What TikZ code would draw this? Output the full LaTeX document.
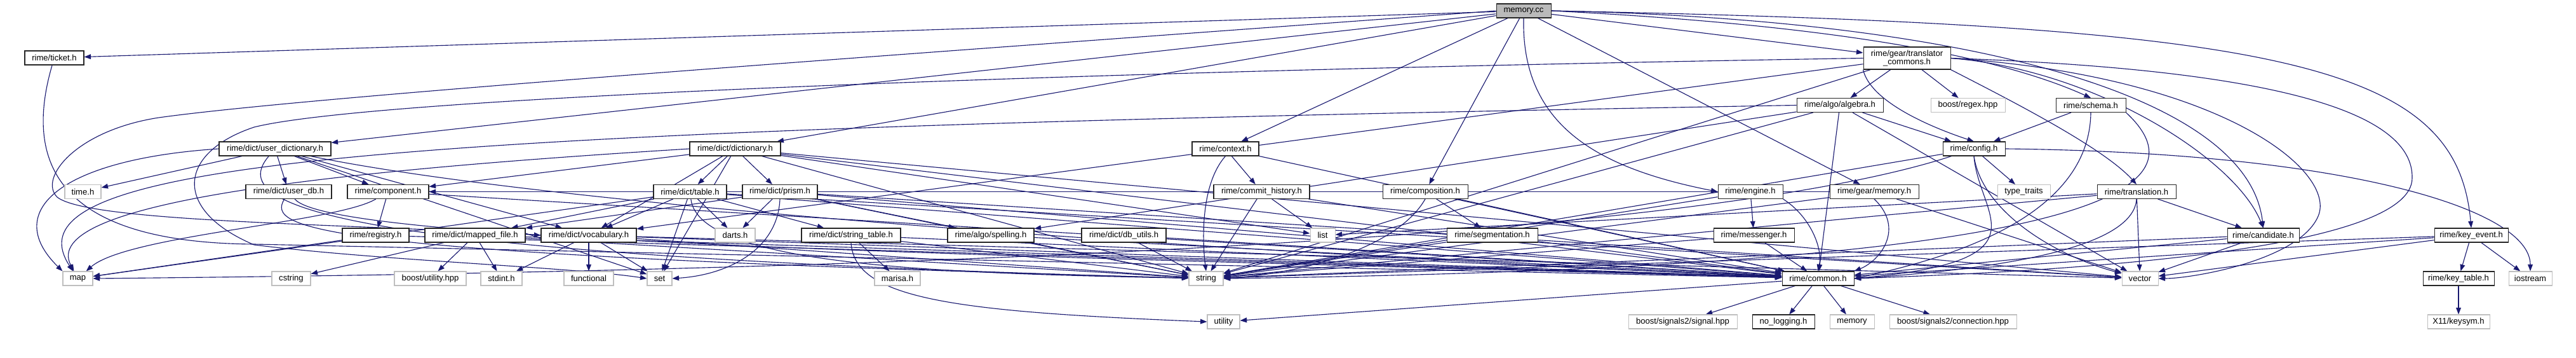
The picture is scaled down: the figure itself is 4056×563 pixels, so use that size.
\documentclass[tikz,border=0pt]{standalone}
\usepackage{fontspec}
\setmainfont{Liberation Sans}
\usetikzlibrary{arrows.meta,backgrounds}
\definecolor{edgeblue}{RGB}{25,25,112}

\begin{document}
\begin{tikzpicture}[x=0.025cm, y=-0.025cm,
    box/.style={draw, line width=0.75pt, fill=white, inner sep=0pt, minimum height=0.55cm,
                font=\fontsize{9.3}{9.2}\selectfont},
    hdr/.style={box, draw=black!85},
    sys/.style={box, draw=black!25},
    rootbox/.style={box, draw=black!85, fill=black!27},
    wd/.style={minimum width=#1*0.025cm},
    dep/.style={draw=edgeblue, line width=0.8pt, -{Triangle[length=7.5pt,width=5.5pt]}}]
  \useasboundingbox (0,0) rectangle (4056,563);

  % top rows
  \node[rootbox, wd=86] (memcc) at (2399,17) {memory.cc};
  \node[hdr, wd=93] (ticket) at (85.5,91) {rime/ticket.h};
  \node[hdr, wd=137, minimum height=0.875cm, align=center] (tcommons) at (3002.5,91.5) {rime/gear/translator\\\_commons.h};
  \node[hdr, wd=136] (algebra) at (2897,165.5) {rime/algo/algebra.h};
  \node[sys, wd=117] (regex) at (3098.5,165.5) {boost/regex.hpp};
  \node[hdr, wd=110] (schema) at (3292,165.5) {rime/schema.h};
  \node[hdr, wd=98] (config) at (3108,234) {rime/config.h};
  \node[hdr, wd=176] (udict) at (433,234) {rime/dict/user\_dictionary.h};
  \node[hdr, wd=143] (dict) at (1157.5,234) {rime/dict/dictionary.h};
  \node[hdr, wd=105] (context) at (1929.5,234) {rime/context.h};

  % middle row
  \node[sys, wd=57] (timeh) at (130.5,301.5) {time.h};
  \node[hdr, wd=135] (userdb) at (454.5,301.5) {rime/dict/user\_db.h};
  \node[hdr, wd=128] (component) at (611,301.5) {rime/component.h};
  \node[hdr, wd=115] (table) at (1086.5,301.5) {rime/dict/table.h};
  \node[hdr, wd=118] (prism) at (1228,301.5) {rime/dict/prism.h};
  \node[hdr, wd=151] (commit) at (1986.5,301.5) {rime/commit\_history.h};
  \node[hdr, wd=134] (composition) at (2244,301.5) {rime/composition.h};
  \node[hdr, wd=102] (engine) at (2756,301.5) {rime/engine.h};
  \node[hdr, wd=140] (gmemory) at (2951,301.5) {rime/gear/memory.h};
  \node[sys, wd=83] (typetraits) at (3186.5,301.5) {type\_traits};
  \node[hdr, wd=124] (translation) at (3364,301.5) {rime/translation.h};

  \node[hdr, wd=105] (registry) at (591.5,370) {rime/registry.h};
  \node[hdr, wd=158] (mapped) at (748,370) {rime/dict/mapped\_file.h};
  \node[hdr, wd=150] (vocab) at (927,370) {rime/dict/vocabulary.h};
  \node[sys, wd=63] (darts) at (1157.5,370) {darts.h};
  \node[hdr, wd=156] (strtable) at (1340,370) {rime/dict/string\_table.h};
  \node[hdr, wd=136] (spelling) at (1560,370) {rime/algo/spelling.h};
  \node[hdr, wd=133] (dbutils) at (1769.5,370) {rime/dict/db\_utils.h};
  \node[sys, wd=39] (list) at (2082.5,370) {list};
  \node[hdr, wd=143] (segmentation) at (2349.5,370) {rime/segmentation.h};
  \node[hdr, wd=127] (messenger) at (2761.5,370) {rime/messenger.h};
  \node[hdr, wd=113] (candidate) at (3563.5,370) {rime/candidate.h};
  \node[hdr, wd=116] (keyevent) at (3891,370) {rime/key\_event.h};

  % bottom rows
  \node[sys, wd=47] (map) at (122.5,438) {map};
  \node[sys, wd=61] (cstring) at (458.5,438) {cstring};
  \node[sys, wd=113] (butility) at (677.5,438) {boost/utility.hpp};
  \node[sys, wd=65] (stdint) at (789.5,438) {stdint.h};
  \node[sys, wd=78] (functional) at (927,438) {functional};
  \node[sys, wd=39] (set) at (1038.5,438) {set};
  \node[sys, wd=72] (marisa) at (1413,438) {marisa.h};
  \node[sys, wd=54] (string) at (1899,438) {string};
  \node[hdr, wd=113] (common) at (2862.5,438) {rime/common.h};
  \node[sys, wd=57] (vector) at (3369.5,438) {vector};
  \node[hdr, wd=112] (keytable) at (3871,438) {rime/key\_table.h};
  \node[sys, wd=68] (iostream) at (3984,438) {iostream};

  \node[sys, wd=51] (utility) at (1926.5,506) {utility};
  \node[sys, wd=171] (signal) at (2649.5,506) {boost/signals2/signal.hpp};
  \node[hdr, wd=98] (nologging) at (2808,506) {no\_logging.h};
  \node[sys, wd=70] (memory) at (2916,506) {memory};
  \node[sys, wd=200] (connection) at (3075,506) {boost/signals2/connection.hpp};
  \node[sys, wd=98] (keysym) at (3871,506) {X11/keysym.h};

  \begin{scope}[on background layer]
    % memory.cc
    \draw[dep] (memcc) -- (ticket);
    \draw[dep] (memcc) -- (udict);
    \draw[dep] (memcc) -- (dict);
    \draw[dep] (memcc) -- (context);
    \draw[dep] (memcc) -- (composition);
    \draw[dep] (memcc.south) .. controls (2395,200) and (2520,265) .. (engine.west);
    \draw[dep] (memcc) -- (gmemory);
    \draw[dep] (memcc) -- (tcommons);
    \draw[dep] (memcc.east) .. controls (2900,40) and (3150,90) .. (schema.north);
    \draw[dep] (memcc.east) .. controls (3100,30) and (3540,150) .. (candidate.north);
    \draw[dep] (memcc.east) .. controls (3600,40) and (3868,100) .. (keyevent.north);
    \draw[dep] (memcc.west) .. controls (1500,80) and (500,150) .. (250,185)
      .. controls (120,205) and (60,280) .. (90,310)
      .. controls (140,350) and (550,352) .. (vocab.west);
    % ticket, user dictionary
    \draw[dep] (ticket) .. controls (30,280) and (120,382) .. (400,384) -- (common);
    \draw[dep] (udict.west) .. controls (100,250) and (0,330) .. (map.north west);
    \draw[dep] (udict) -- (timeh);
    \draw[dep] (udict) -- (userdb);
    \draw[dep] (udict) -- (component);
    \draw[dep] (udict) -- (vocab);
    \draw[dep] (udict) -- (set);
    \draw[dep] (udict) .. controls (360,320) and (480,400) .. (string);
    \draw[dep] (udict) .. controls (900,330) and (2000,400) .. (common);
    \draw[dep] (userdb) .. controls (420,360) and (480,400) .. (string);
    \draw[dep] (userdb) .. controls (520,380) and (1500,400) .. (common);
    \draw[dep] (component) -- (registry);
    \draw[dep] (component) .. controls (530,350) and (200,370) .. (map);
    \draw[dep] (component) -- (common);
    \draw[dep] (registry) -- (map);
    \draw[dep] (registry) -- (common);
    \draw[dep] (mapped) -- (butility);
    \draw[dep] (mapped) -- (stdint);
    \draw[dep] (mapped) -- (cstring);
    \draw[dep] (mapped) -- (string);
    \draw[dep] (mapped) -- (common);
    \draw[dep] (vocab) -- (stdint);
    \draw[dep] (vocab) -- (functional);
    \draw[dep] (vocab) -- (set);
    \draw[dep] (vocab) -- (string);
    \draw[dep] (vocab) -- (vector);
    \draw[dep] (vocab) -- (common);
    % dictionary, table, prism
    \draw[dep] (dict) -- (table);
    \draw[dep] (dict) -- (prism);
    \draw[dep] (dict) -- (vocab);
    \draw[dep] (dict) -- (component);
    \draw[dep] (dict.west) .. controls (500,270) and (60,320) .. (map);
    \draw[dep] (dict) -- (set);
    \draw[dep] (dict) -- (list);
    \draw[dep] (dict) -- (string);
    \draw[dep] (dict) -- (vector);
    \draw[dep] (dict) -- (common);
    \draw[dep] (table) -- (darts);
    \draw[dep] (table) -- (set);
    \draw[dep] (table) -- (strtable);
    \draw[dep] (table) -- (mapped);
    \draw[dep] (table) -- (vocab);
    \draw[dep] (table) -- (map);
    \draw[dep] (table) .. controls (1100,420) and (1500,430) .. (string);
    \draw[dep] (table) -- (vector);
    \draw[dep] (table) -- (common);
    \draw[dep] (prism) -- (darts);
    \draw[dep] (prism.south) .. controls (1225,390) and (1150,432) .. (set.east);
    \draw[dep] (prism) -- (mapped);
    \draw[dep] (prism) -- (spelling);
    \draw[dep] (prism) -- (string);
    \draw[dep] (prism) -- (vector);
    \draw[dep] (prism) -- (common);
    \draw[dep] (strtable) -- (marisa);
    \draw[dep] (strtable.south) .. controls (1345,470) and (1500,490) .. (utility.west);
    \draw[dep] (strtable) -- (string);
    \draw[dep] (strtable) -- (common);
    \draw[dep] (spelling) -- (string);
    \draw[dep] (spelling) -- (common);
    \draw[dep] (dbutils) -- (string);
    \draw[dep] (dbutils) -- (common);
    % context, composition, engine
    \draw[dep] (context) -- (commit);
    \draw[dep] (context.south) .. controls (1890,290) and (1893,380) .. (string.north);
    \draw[dep] (context) -- (common);
    \draw[dep] (commit) -- (list);
    \draw[dep] (commit) -- (string);
    \draw[dep] (commit) -- (common);
    \draw[dep] (composition) -- (segmentation);
    \draw[dep] (composition.south) .. controls (2200,390) and (2050,430) .. (string.east);
    \draw[dep] (composition) -- (common);
    \draw[dep] (segmentation) -- (string);
    \draw[dep] (segmentation) -- (common);
    \draw[dep] (engine) -- (messenger);
    \draw[dep] (engine) -- (string);
    \draw[dep] (engine.south east) .. controls (2850,340) and (2870,390) .. (common.north);
    \draw[dep] (messenger) -- (common);
    \draw[dep] (messenger) -- (string);
    \draw[dep] (gmemory) -- (component);
    \draw[dep] (gmemory) -- (string);
    \draw[dep] (gmemory.south) .. controls (3000,360) and (2960,410) .. (common.north east);
    \draw[dep] (gmemory) -- (vector);
    % translator commons, algebra
    \draw[dep] (algebra) -- (spelling);
    \draw[dep] (algebra.west) .. controls (600,205) and (0,250) .. (map);
    \draw[dep] (algebra) -- (config);
    \draw[dep] (algebra) -- (string);
    \draw[dep] (algebra) -- (vector);
    \draw[dep] (algebra) -- (common);
    \draw[dep] (tcommons) -- (algebra);
    \draw[dep] (tcommons) -- (regex);
    \draw[dep] (tcommons.south west) .. controls (2945,160) and (3040,200) .. (config.north);
    \draw[dep] (tcommons.south east) .. controls (3150,150) and (3310,230) .. (translation.north);
    \draw[dep] (tcommons.east) .. controls (3300,110) and (3520,250) .. (candidate.north);
    \draw[dep] (tcommons.west) .. controls (1800,110) and (600,150) .. (400,200)
      .. controls (280,240) and (270,330) .. (400,385) .. controls (600,410) and (900,420) .. (set.west);
    \draw[dep] (tcommons) -- (vocab);
    \draw[dep] (tcommons) -- (string);
    \draw[dep] (tcommons.east) .. controls (3500,120) and (3680,270) .. (3650,340)
      .. controls (3620,410) and (3450,438) .. (vector.east);
    \draw[dep] (tcommons.east) .. controls (3600,110) and (3800,180) .. (3798,280)
      .. controls (3798,390) and (3300,425) .. (common.east);
    % config, schema, translation
    \draw[dep] (config) -- (typetraits);
    \draw[dep] (config.east) .. controls (3700,240) and (3984,330) .. (iostream.north);
    \draw[dep] (config) .. controls (2600,400) and (1000,430) .. (map.east);
    \draw[dep] (config) -- (string);
    \draw[dep] (config.south) .. controls (3120,330) and (3230,400) .. (vector);
    \draw[dep] (config.south) .. controls (3115,340) and (3230,410) .. (common.east);
    \draw[dep] (schema) -- (config);
    \draw[dep] (schema.south) .. controls (3290,330) and (3100,400) .. (common.east);
    \draw[dep] (schema.south east) .. controls (3480,300) and (3300,420) .. (string.east);
    \draw[dep] (translation) -- (candidate);
    \draw[dep] (translation) -- (list);
    \draw[dep] (translation) -- (string);
    \draw[dep] (translation.south) .. controls (3360,380) and (3200,420) .. (common.east);
    \draw[dep] (translation) -- (vector);
    \draw[dep] (candidate) -- (common);
    \draw[dep] (candidate) -- (string);
    \draw[dep] (candidate) -- (vector);
    \draw[dep] (keyevent) -- (keytable);
    \draw[dep] (keyevent) -- (iostream);
    \draw[dep] (keyevent) -- (string);
    \draw[dep] (keyevent) -- (vector);
    \draw[dep] (keyevent) -- (common);
    \draw[dep] (keytable) -- (keysym);
    % common
    \draw[dep] (common) -- (signal);
    \draw[dep] (common) -- (nologging);
    \draw[dep] (common) -- (memory);
    \draw[dep] (common) -- (connection);
    \draw[dep] (common) -- (utility);
  \end{scope}
\end{tikzpicture}
\end{document}
